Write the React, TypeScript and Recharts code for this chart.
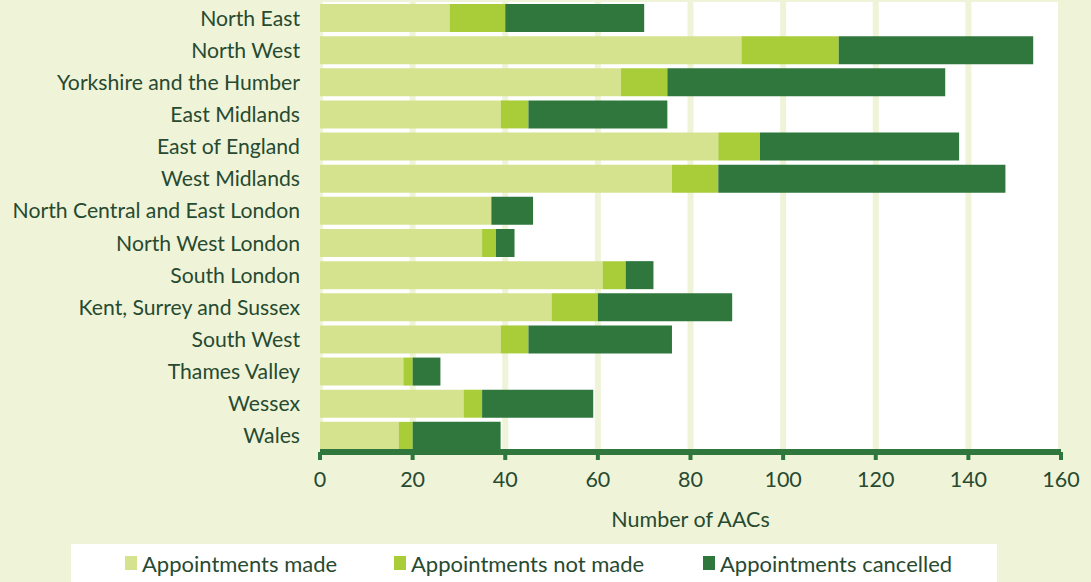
import React from "react";
import { BarChart, Bar, XAxis, YAxis, CartesianGrid } from "recharts";

const regions = [
  "North East",
  "North West",
  "Yorkshire and the Humber",
  "East Midlands",
  "East of England",
  "West Midlands",
  "North Central and East London",
  "North West London",
  "South London",
  "Kent, Surrey and Sussex",
  "South West",
  "Thames Valley",
  "Wessex",
  "Wales",
];

const made = [28, 91, 65, 39, 86, 76, 37, 35, 61, 50, 39, 18, 31, 17];
const notMade = [12, 21, 10, 6, 9, 10, 0, 3, 5, 10, 6, 2, 4, 3];
const cancelled = [30, 42, 60, 30, 43, 62, 9, 4, 6, 29, 31, 6, 24, 19];

const xTicks = [0, 20, 40, 60, 80, 100, 120, 140, 160];

const series = [
  { key: "made", name: "Appointments made", color: "#d5e38f" },
  { key: "notMade", name: "Appointments not made", color: "#a8cd39" },
  { key: "cancelled", name: "Appointments cancelled", color: "#2f773d" },
];

const data = regions.map((name, i) => ({
  name,
  made: made[i],
  notMade: notMade[i],
  cancelled: cancelled[i],
}));

const BG = "#eff4d9";
const TEXT = "#274a30";
const FONT = "Lato, 'Open Sans', sans-serif";

export default function App() {
  return (
    <div
      style={{
        position: "absolute",
        left: 0,
        top: 0,
        width: 1091,
        height: 582,
        background: BG,
        fontFamily: FONT,
        overflow: "hidden",
      }}
    >
      <BarChart
        width={1091}
        height={582}
        data={data}
        layout="vertical"
        margin={{ top: 2, right: 30, bottom: 55, left: 0 }}
      >
        <CartesianGrid
          horizontal={false}
          fill="#ffffff"
          stroke={BG}
          strokeWidth={6}
        />
        <XAxis
          type="number"
          domain={[0, 160]}
          ticks={xTicks}
          interval={0}
          height={75}
          axisLine={{ stroke: "#2f773d", strokeWidth: 6 }}
          tickLine={{ stroke: "#2f773d", strokeWidth: 4 }}
          tickSize={8}
          tickMargin={12}
          tick={{ fontSize: 21.5, fill: TEXT, fontFamily: FONT }}
          label={{
            value: "Number of AACs",
            position: "insideBottom",
            offset: 0,
            fontSize: 21.5,
            fill: TEXT,
            fontFamily: FONT,
          }}
        />
        <YAxis
          type="category"
          dataKey="name"
          width={320}
          axisLine={false}
          tickLine={false}
          tickSize={0}
          tickMargin={20}
          interval={0}
          tick={{ fontSize: 21.2, fill: TEXT, fontFamily: FONT }}
        />
        {series.map((s) => (
          <Bar
            key={s.key}
            dataKey={s.key}
            name={s.name}
            stackId="a"
            fill={s.color}
            barSize={28}
            isAnimationActive={false}
          />
        ))}
      </BarChart>
      <div
        style={{
          position: "absolute",
          left: 71,
          top: 544,
          width: 926,
          height: 38,
          background: "#ffffff",
          display: "flex",
          alignItems: "center",
          fontSize: 22,
          color: TEXT,
        }}
      >
        {series.map((s, i) => (
          <div
            key={s.key}
            style={{
              position: "absolute",
              left: [54, 323, 632][i],
              display: "flex",
              alignItems: "center",
            }}
          >
            <span
              style={{
                display: "inline-block",
                width: 12,
                height: 14,
                background: s.color,
                marginRight: 5,
              }}
            />
            <span>{s.name}</span>
          </div>
        ))}
      </div>
    </div>
  );
}
